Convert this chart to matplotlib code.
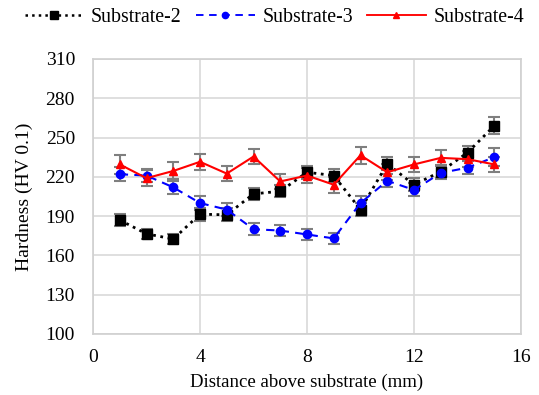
import matplotlib
matplotlib.use("Agg")
import matplotlib.pyplot as plt
from matplotlib.lines import Line2D

plt.rcParams['font.family'] = ['Liberation Serif', 'DejaVu Serif']

distance = [1, 2, 3, 4, 5, 6, 7, 8, 9, 10, 11, 12, 13, 14, 15]
sub2 = [187, 176.5, 172.5, 191.5, 191, 207, 209, 223.5, 221, 195, 230, 214, 224, 238.5, 259]
sub2_err = [4.5, 4, 4, 5, 5, 4.5, 4.5, 5, 5, 5, 5, 5, 5, 5, 6.5]
sub3 = [222, 221, 212, 200, 195, 180, 179, 176, 173, 200, 217, 210, 223, 227, 235]
sub3_err = [5.5, 5, 5, 5, 5, 4.5, 4.5, 4.5, 4.5, 5, 5, 5, 5, 5, 7]
sub4 = [229.5, 219, 224.5, 231.5, 222.5, 235.5, 216.5, 221, 214, 236.5, 223.5, 229.5, 234.5, 233.5, 229.5]
sub4_err = [7, 6, 6.5, 6, 5.5, 6, 6, 6, 6, 6.5, 6, 6, 6, 6, 5.5]

labels = ['Substrate-2', 'Substrate-3', 'Substrate-4']
x_ticks = [0, 4, 8, 12, 16]
y_ticks = [100, 130, 160, 190, 220, 250, 280, 310]

fig = plt.figure(figsize=(5.39, 3.95), dpi=100)
ax = fig.add_axes([93/539, 1-334/395, (521-93)/539, (334-59)/395])

ecol = '#7f7f7f'
styles = [
    dict(color='black', linestyle=':', linewidth=2, marker='s', markersize=7),
    dict(color='#0000ff', linestyle=(0, (4, 3)), linewidth=1.5, marker='o', markersize=6),
    dict(color='#ff0000', linestyle='-', linewidth=1.5, marker='^', markersize=6),
]
series = [(sub2, sub2_err), (sub3, sub3_err), (sub4, sub4_err)]
for (vals, err), st, lab in zip(series, styles, labels):
    ax.errorbar(distance, vals, yerr=err, ecolor=ecol, elinewidth=1.5, capsize=4.5,
                capthick=1.5, label=lab, zorder=3, **st)

ax.set_xlim(0, 16)
ax.set_ylim(100, 310)
ax.set_xticks(x_ticks)
ax.set_yticks(y_ticks)
ax.grid(True, color='#d9d9d9', linewidth=1.2, zorder=0)
ax.set_axisbelow(True)
for s in ax.spines.values():
    s.set_color('#d0d0d0')
    s.set_linewidth(1.2)
ax.tick_params(axis='y', length=0, labelsize=14, pad=13)
ax.tick_params(axis='x', length=0, labelsize=14, pad=11)
ax.set_xlabel('Distance above substrate (mm)', fontsize=13.5, labelpad=5)
ax.set_ylabel('Hardness (HV 0.1)', fontsize=14, labelpad=9)

handles = []
for st, ms in zip(styles, [5.5, 4.5, 4.5]):
    d = dict(st)
    d['markersize'] = ms
    d['linewidth'] = d['linewidth'] * 0.9
    handles.append(Line2D([], [], **d))
fig.legend(handles, labels, loc='center left', bbox_to_anchor=(17/539, 1 - 17/395), ncol=3,
           frameon=False, fontsize=14.3, handlelength=2.95, handletextpad=0.38,
           columnspacing=0.72, borderaxespad=0.0)

fig.savefig('out.png', dpi=100)
